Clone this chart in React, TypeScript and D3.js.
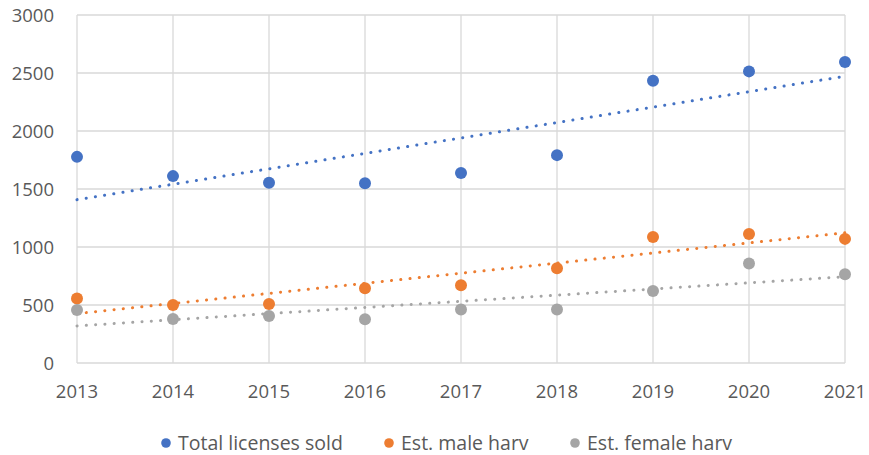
import * as d3 from "d3";
import React from "react";

const years = [2013, 2014, 2015, 2016, 2017, 2018, 2019, 2020, 2021];
const totalLicenses = [1777, 1611, 1553, 1550, 1637, 1792, 2433, 2514, 2594];
const maleHarv = [556, 500, 509, 645, 670, 817, 1087, 1113, 1070];
const femaleHarv = [457, 380, 405, 377, 462, 461, 621, 858, 765];
const yTicks = [0, 500, 1000, 1500, 2000, 2500, 3000];

const series = [
	{ name: "Total licenses sold", values: totalLicenses, color: "#4472C4" },
	{ name: "Est. male harv", values: maleHarv, color: "#ED7D31" },
	{ name: "Est. female harv", values: femaleHarv, color: "#A5A5A5" },
];

const width = 869,
	height = 455;
const margin = { top: 15, right: 24, bottom: 92, left: 77 };
const font = "'Open Sans', sans-serif";

// least squares fit, like Excel's linear trendline
const trend = (xs: number[], ys: number[]) => {
	const mx = d3.mean(xs)!;
	const my = d3.mean(ys)!;
	const slope =
		d3.sum(xs, (x, i) => (x - mx) * (ys[i] - my)) /
		d3.sum(xs, (x) => (x - mx) * (x - mx));
	return (x: number) => my + slope * (x - mx);
};

const App = () => {
	const x = d3
		.scaleLinear()
		.domain([2013, 2021])
		.range([margin.left, width - margin.right]);
	const y = d3
		.scaleLinear()
		.domain([0, 3000])
		.range([height - margin.bottom, margin.top]);

	const line = d3
		.line<[number, number]>()
		.x((d) => x(d[0]))
		.y((d) => y(d[1]));

	const legendX = [166, 389, 575];

	return (
		<svg
			width={width}
			height={height}
			style={{ position: "absolute", left: 0, top: 0, background: "#fff" }}
		>
			{yTicks.map((t) => (
				<g key={"y" + t}>
					<line
						x1={x(2013)}
						x2={x(2021)}
						y1={y(t)}
						y2={y(t)}
						stroke="#D9D9D9"
						strokeWidth={1.3}
					/>
					<text
						x={54}
						y={y(t)}
						dy="0.36em"
						textAnchor="end"
						fontFamily={font}
						fontSize={18.5}
						fill="#595959"
					>
						{t}
					</text>
				</g>
			))}
			{years.map((yr) => (
				<g key={"x" + yr}>
					<line
						x1={x(yr)}
						x2={x(yr)}
						y1={y(0)}
						y2={y(3000)}
						stroke="#D9D9D9"
						strokeWidth={1.3}
					/>
					<text
						x={x(yr)}
						y={y(0) + 35}
						textAnchor="middle"
						fontFamily={font}
						fontSize={18.5}
						fill="#595959"
					>
						{yr}
					</text>
				</g>
			))}

			{series.map((s) => {
				const f = trend(years, s.values);
				return (
					<path
						key={"t" + s.name}
						d={line([
							[2013, f(2013)],
							[2021, f(2021)],
						])!}
						fill="none"
						stroke={s.color}
						strokeWidth={3}
						strokeLinecap="round"
						strokeDasharray="0.1 9.2"
					/>
				);
			})}

			{series.map((s) =>
				s.values.map((v, i) => (
					<circle
						key={s.name + i}
						cx={x(years[i])}
						cy={y(v)}
						r={6}
						fill={s.color}
					/>
				))
			)}

			{series.map((s, i) => (
				<g key={"l" + s.name} transform={`translate(${legendX[i]},443)`}>
					<circle cx={0} cy={0} r={4.8} fill={s.color} />
					<text
						x={12}
						y={7}
						fontFamily={font}
						fontSize={19.5}
						fill="#595959"
					>
						{s.name}
					</text>
				</g>
			))}
		</svg>
	);
};

export default App;
